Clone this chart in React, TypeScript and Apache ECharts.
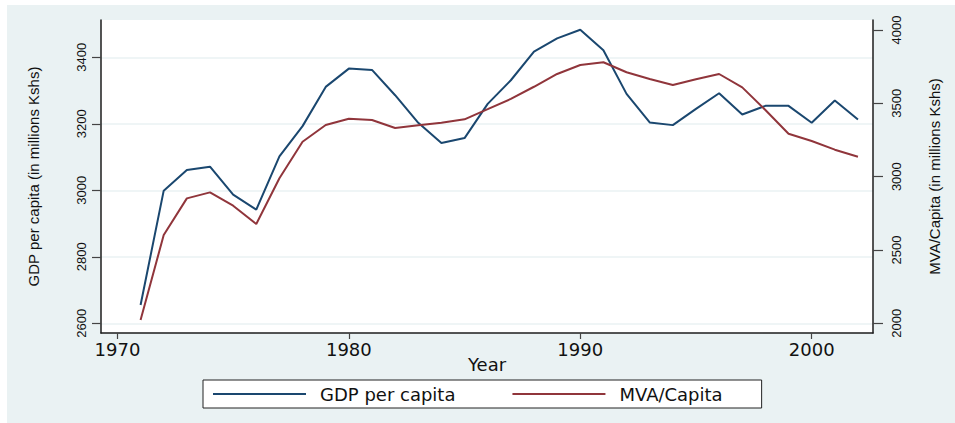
import React, { useEffect, useRef } from "react";
import * as echarts from "echarts";

const years = [1971, 1972, 1973, 1974, 1975, 1976, 1977, 1978, 1979, 1980, 1981, 1982, 1983, 1984, 1985, 1986, 1987, 1988, 1989, 1990, 1991, 1992, 1993, 1994, 1995, 1996, 1997, 1998, 1999, 2000, 2001, 2002];
const gdpPerCapita = [2655, 2999, 3061, 3071, 2987, 2942, 3102, 3193, 3311, 3366, 3362, 3286, 3203, 3142, 3157, 3260, 3331, 3417, 3457, 3483, 3421, 3290, 3204, 3196, 3245, 3292, 3228, 3254, 3254, 3203, 3270, 3213];
const mvaPerCapita = [2022, 2602, 2852, 2893, 2802, 2677, 2989, 3238, 3352, 3395, 3386, 3332, 3350, 3368, 3391, 3460, 3530, 3613, 3700, 3761, 3780, 3712, 3666, 3625, 3664, 3700, 3609, 3454, 3293, 3243, 3184, 3136];
const xTicks = [1970, 1980, 1990, 2000];
const leftTicks = [2600, 2800, 3000, 3200, 3400];
const rightTicks = [2000, 2500, 3000, 3500, 4000];

const BG = "#eaf2f3";
const BLUE = "#1a476f";
const RED = "#90353b";
const AXIS = "#1c1c1c";

export default function App() {
  const ref = useRef<HTMLDivElement>(null);
  useEffect(() => {
    if (!ref.current) return;
    const chart = echarts.init(ref.current, undefined, { renderer: "svg" });
    chart.setOption({
      animation: false,
      backgroundColor: BG,
      grid: {
        left: 94,
        right: 82,
        top: 15,
        bottom: 90,
        show: true,
        backgroundColor: "#ffffff",
        borderWidth: 0,
      },
      legend: {
        left: 196,
        top: 375,
        data: ["GDP per capita", "MVA/Capita"],
        icon: "rect",
        itemWidth: 93,
        itemHeight: 2,
        itemGap: 57,
        padding: [5, 39, 5, 10],
        backgroundColor: "#ffffff",
        borderColor: "#222",
        borderWidth: 1,
        textStyle: {
          fontFamily: "DejaVu Sans",
          fontSize: 18,
          color: "#111",
          padding: [0, 0, 0, 9],
        },
      },
      xAxis: {
        type: "value",
        min: 1969.29,
        max: 2002.65,
        name: "Year",
        nameLocation: "middle",
        nameGap: 22,
        nameMoveOverlap: false,
        nameTextStyle: { fontFamily: "DejaVu Sans", fontSize: 18, color: "#111" },
        axisLine: { show: true, lineStyle: { color: AXIS, width: 1.5 } },
        axisTick: { show: true, length: 6, customValues: xTicks, lineStyle: { color: "#444", width: 1.2 } },
        axisLabel: {
          customValues: xTicks,
          margin: 7,
          fontFamily: "DejaVu Sans",
          fontSize: 18,
          color: "#111",
          formatter: (v: number) => String(v),
        },
        splitLine: { show: false },
      },
      yAxis: [
        {
          type: "value",
          position: "left",
          min: 2570.8,
          max: 3512.2,
          name: "GDP per capita (in millions Kshs)",
          nameLocation: "middle",
          nameRotate: 90,
          nameGap: 60,
          nameTextStyle: { fontFamily: "Liberation Sans", fontSize: 15, color: "#111" },
          axisLine: { show: true, lineStyle: { color: AXIS, width: 1.5 } },
          axisTick: { show: true, length: 9, customValues: leftTicks, lineStyle: { color: "#444", width: 1.2 } },
          axisLabel: {
            customValues: leftTicks,
            rotate: 90,
            margin: 13,
            fontFamily: "Liberation Sans Narrow, Liberation Sans",
            fontSize: 13,
            color: "#111",
            formatter: (v: number) => String(v),
          },
          splitLine: { show: true, lineStyle: { color: BG, width: 1.5 } },
        },
        {
          type: "value",
          position: "right",
          min: 1933.9,
          max: 4068.2,
          name: "MVA/Capita (in millions Kshs)",
          nameLocation: "middle",
          nameRotate: 90,
          nameGap: 54,
          nameTextStyle: { fontFamily: "Liberation Sans", fontSize: 15, color: "#111" },
          axisLine: { show: true, lineStyle: { color: AXIS, width: 1.5 } },
          axisTick: { show: true, length: 10, customValues: rightTicks, lineStyle: { color: "#444", width: 1.2 } },
          axisLabel: {
            customValues: rightTicks,
            rotate: 90,
            margin: 17,
            fontFamily: "Liberation Sans Narrow, Liberation Sans",
            fontSize: 13,
            color: "#111",
            formatter: (v: number) => String(v),
          },
          splitLine: { show: false },
        },
      ],
      series: [
        {
          name: "GDP per capita",
          type: "line",
          yAxisIndex: 0,
          data: years.map((y, i) => [y, gdpPerCapita[i]]),
          symbol: "none",
          lineStyle: { color: BLUE, width: 2 },
          itemStyle: { color: BLUE },
        },
        {
          name: "MVA/Capita",
          type: "line",
          yAxisIndex: 1,
          data: years.map((y, i) => [y, mvaPerCapita[i]]),
          symbol: "none",
          lineStyle: { color: RED, width: 2 },
          itemStyle: { color: RED },
        },
      ],
    });
    return () => chart.dispose();
  }, []);
  return (
    <div style={{ position: "absolute", left: 0, top: 0, width: 955, height: 423, background: "#ffffff" }}>
      <div ref={ref} style={{ position: "absolute", left: 7, top: 5, width: 948, height: 418 }} />
    </div>
  );
}
